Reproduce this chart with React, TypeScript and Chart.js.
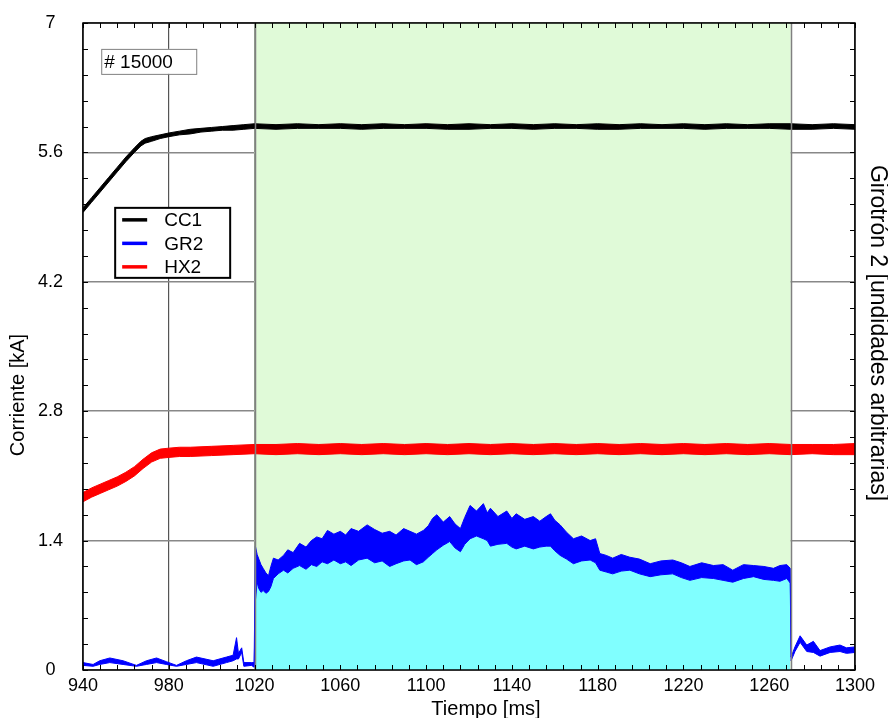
import React, { useEffect, useRef } from 'react';
import { Chart, registerables } from 'chart.js';

Chart.register(...registerables);

// ---------- axes ----------
const X_MIN = 940;
const X_MAX = 1300;
const X_STEP = 40;
const X_MINOR = 8;
const Y_TICKS = [0, 1.4, 2.8, 4.2, 5.6, 7];
const Y_MINOR = 0.28;
const SHADE = [1020, 1270];
const SHOT_LABEL = '# 15000';
const X_TITLE = 'Tiempo [ms]';
const Y_TITLE = 'Corriente [kA]';
const Y2_TITLE = 'Girotrón 2 [undidades arbitrarias]';
const LEGEND_LABELS = ['CC1', 'GR2', 'HX2'];
const LEGEND_COLORS = ['#000000', '#0000ff', '#ff0000'];

// ---------- CC1 (black) envelope ----------
const CC1_T = [940, 944, 948, 952, 956, 960, 964, 967, 969, 972, 976, 980, 985, 990, 995, 1000, 1005, 1010, 1015, 1020,
  1030, 1040, 1050, 1060, 1070, 1080, 1090, 1100, 1110, 1120, 1130, 1140, 1150, 1160, 1170, 1180, 1190, 1200,
  1210, 1220, 1230, 1240, 1250, 1260, 1270, 1280, 1290, 1300];
const CC1_LO = [4.95, 5.06, 5.17, 5.28, 5.39, 5.50, 5.60, 5.67, 5.70, 5.72, 5.75, 5.77, 5.79, 5.80, 5.82, 5.83, 5.84, 5.84, 5.85, 5.86,
  5.85, 5.86, 5.86, 5.86, 5.85, 5.86, 5.86, 5.86, 5.85, 5.85, 5.86, 5.86, 5.85, 5.86, 5.86, 5.85, 5.85, 5.86,
  5.86, 5.86, 5.85, 5.86, 5.86, 5.86, 5.85, 5.85, 5.86, 5.85];
const CC1_HI = [5.00, 5.11, 5.22, 5.33, 5.44, 5.55, 5.65, 5.72, 5.75, 5.77, 5.79, 5.81, 5.83, 5.85, 5.86, 5.87, 5.88, 5.89, 5.90, 5.91,
  5.90, 5.91, 5.90, 5.91, 5.90, 5.91, 5.90, 5.91, 5.90, 5.91, 5.90, 5.91, 5.90, 5.91, 5.90, 5.91, 5.90, 5.91,
  5.90, 5.91, 5.90, 5.91, 5.90, 5.91, 5.91, 5.90, 5.91, 5.90];

// ---------- HX2 (red) envelope ----------
const HX2_T = [940, 944, 948, 952, 956, 960, 964, 968, 972, 976, 980, 985, 990, 1000, 1010, 1020,
  1030, 1040, 1050, 1060, 1070, 1080, 1090, 1100, 1110, 1120, 1130, 1140, 1150, 1160, 1170, 1180, 1190, 1200,
  1210, 1220, 1230, 1240, 1250, 1260, 1270, 1280, 1290, 1300];
const HX2_LO = [1.82, 1.87, 1.91, 1.95, 1.99, 2.04, 2.10, 2.18, 2.25, 2.29, 2.30, 2.31, 2.31, 2.32, 2.33, 2.34,
  2.33, 2.34, 2.33, 2.34, 2.33, 2.34, 2.33, 2.34, 2.33, 2.34, 2.33, 2.34, 2.33, 2.34, 2.33, 2.34, 2.33, 2.34,
  2.33, 2.34, 2.33, 2.34, 2.33, 2.34, 2.33, 2.34, 2.33, 2.33];
const HX2_HI = [1.92, 1.97, 2.01, 2.05, 2.09, 2.14, 2.20, 2.28, 2.35, 2.39, 2.40, 2.41, 2.41, 2.42, 2.43, 2.44,
  2.44, 2.45, 2.44, 2.45, 2.44, 2.45, 2.44, 2.45, 2.44, 2.45, 2.44, 2.45, 2.44, 2.45, 2.44, 2.45, 2.44, 2.45,
  2.44, 2.45, 2.44, 2.45, 2.44, 2.45, 2.44, 2.44, 2.44, 2.45];

// ---------- GR2 (blue) envelope ----------
const GR2_T = [940, 944.7, 947.8, 952.5, 958.7, 964.9, 969.6, 974.3, 978.9, 983.6, 988.2, 992.9, 1000.7, 1006.9, 1010,
  1011.6, 1012.5, 1014, 1015, 1018.6, 1019.8,
  1020.4, 1021.2, 1022, 1023, 1024, 1025.3, 1026.5, 1027.6, 1028.8, 1031, 1033.5, 1035.5, 1038, 1041, 1044, 1046.5,
  1049, 1051.5, 1054, 1057, 1060, 1062.5, 1065, 1068.5, 1072.5, 1076, 1079.5, 1083, 1086, 1089.5, 1092.5, 1095.5,
  1098.7, 1101, 1103, 1105, 1108, 1111, 1113.5, 1116, 1118, 1120.5, 1123.5, 1126.7, 1128.5, 1130, 1133.5, 1137.6,
  1140, 1142, 1146, 1150, 1153, 1156, 1158, 1160, 1162.5, 1165.5, 1168.7, 1172.5, 1176.5, 1179, 1181, 1184, 1187,
  1191, 1195, 1199.5, 1204.5, 1209.5, 1215, 1219, 1223, 1228.5, 1234, 1238.5, 1243, 1248, 1252.7, 1257.5, 1262,
  1265, 1268.2, 1269.8,
  1270.2, 1272, 1274.4, 1277.5, 1280.6, 1283.7, 1288.4, 1293, 1296, 1300];
const GR2_LO = [0.05, 0.04, 0.06, 0.08, 0.06, 0.04, 0.06, 0.08, 0.06, 0.04, 0.06, 0.08, 0.04, 0.08, 0.10,
  0.12, 0.12, 0.19, 0.04, 0.05, 0.03,
  0.75, 0.95, 0.88, 0.84, 0.86, 0.83, 0.85, 0.90, 0.99, 1.04, 1.08, 1.05, 1.10, 1.13, 1.09, 1.14,
  1.12, 1.17, 1.15, 1.19, 1.15, 1.17, 1.13, 1.19, 1.21, 1.16, 1.18, 1.12, 1.15, 1.18, 1.19, 1.14,
  1.17, 1.22, 1.26, 1.30, 1.35, 1.39, 1.32, 1.28, 1.36, 1.42, 1.45, 1.42, 1.40, 1.34, 1.36, 1.37,
  1.33, 1.31, 1.34, 1.31, 1.33, 1.34, 1.34, 1.29, 1.24, 1.20, 1.15, 1.18, 1.19, 1.16, 1.08, 1.06, 1.04,
  1.07, 1.08, 1.04, 1.01, 1.03, 1.04, 1.00, 0.97, 1.00, 0.99, 0.97, 0.95, 0.99, 1.01, 0.98, 0.97,
  0.96, 0.99, 0.94,
  0.10, 0.20, 0.30, 0.20, 0.19, 0.15, 0.19, 0.20, 0.18, 0.19];
const GR2_HI = [0.08, 0.06, 0.10, 0.13, 0.10, 0.05, 0.10, 0.13, 0.09, 0.05, 0.10, 0.14, 0.10, 0.14, 0.16,
  0.35, 0.18, 0.24, 0.08, 0.08, 0.08,
  1.34, 1.25, 1.20, 1.14, 1.10, 1.05, 1.02, 1.12, 1.21, 1.19, 1.24, 1.30, 1.27, 1.37, 1.33, 1.40,
  1.44, 1.42, 1.51, 1.47, 1.50, 1.46, 1.53, 1.50, 1.57, 1.52, 1.48, 1.50, 1.46, 1.53, 1.50, 1.47,
  1.51, 1.56, 1.64, 1.68, 1.60, 1.66, 1.58, 1.53, 1.65, 1.78, 1.72, 1.80, 1.70, 1.75, 1.66, 1.72,
  1.64, 1.69, 1.63, 1.66, 1.61, 1.66, 1.69, 1.62, 1.57, 1.49, 1.42, 1.45, 1.40, 1.42, 1.26, 1.24, 1.21,
  1.25, 1.22, 1.20, 1.15, 1.18, 1.19, 1.16, 1.12, 1.16, 1.13, 1.14, 1.08, 1.14, 1.13, 1.12, 1.10,
  1.13, 1.14, 1.10,
  0.14, 0.25, 0.37, 0.27, 0.31, 0.21, 0.25, 0.27, 0.24, 0.25];

const FONT = "'Liberation Sans', Arial, sans-serif";

const pts = (t: number[], v: number[]) => t.map((x, i) => ({ x, y: v[i] }));

const decor = {
  id: 'decor',
  beforeDatasetsDraw(chart: any) {
    const { ctx, chartArea: a, scales } = chart;
    const x0 = scales.x.getPixelForValue(SHADE[0]);
    const x1 = scales.x.getPixelForValue(SHADE[1]);
    ctx.save();
    ctx.fillStyle = '#e0fad8';
    ctx.fillRect(x0, a.top, x1 - x0, a.bottom - a.top);
    ctx.restore();
  },
  afterDraw(chart: any) {
    const { ctx, chartArea: a, scales } = chart;
    const xs = scales.x;
    const ys = scales.y;
    ctx.save();
    // shade boundaries
    ctx.strokeStyle = '#808080';
    ctx.lineWidth = 1.5;
    for (const s of SHADE) {
      const px = Math.round(xs.getPixelForValue(s)) + 0.5;
      ctx.beginPath();
      ctx.moveTo(px, a.top);
      ctx.lineTo(px, a.bottom);
      ctx.stroke();
    }
    // minor ticks (inward)
    ctx.strokeStyle = '#000';
    ctx.lineWidth = 1;
    const tl = 5;
    for (let v = X_MIN; v <= X_MAX + 1e-9; v += X_MINOR) {
      const px = Math.round(xs.getPixelForValue(v)) + 0.5;
      ctx.beginPath();
      ctx.moveTo(px, a.bottom);
      ctx.lineTo(px, a.bottom - tl);
      ctx.moveTo(px, a.top);
      ctx.lineTo(px, a.top + tl);
      ctx.stroke();
    }
    for (let k = 0; k * Y_MINOR <= 7 + 1e-9; k++) {
      const py = Math.round(ys.getPixelForValue(k * Y_MINOR)) + 0.5;
      ctx.beginPath();
      ctx.moveTo(a.left, py);
      ctx.lineTo(a.left + tl, py);
      ctx.moveTo(a.right, py);
      ctx.lineTo(a.right - tl, py);
      ctx.stroke();
    }
    // frame
    ctx.lineWidth = 1.5;
    ctx.strokeStyle = '#000';
    ctx.strokeRect(a.left, a.top, a.right - a.left, a.bottom - a.top);

    // axis titles
    ctx.fillStyle = '#000';
    ctx.textBaseline = 'middle';
    ctx.textAlign = 'center';
    ctx.font = `20px ${FONT}`;
    ctx.fillText(X_TITLE, 486, 709);
    ctx.save();
    ctx.translate(18, 395);
    ctx.rotate(-Math.PI / 2);
    ctx.fillText(Y_TITLE, 0, 0);
    ctx.restore();
    ctx.save();
    ctx.translate(877, 333);
    ctx.rotate(Math.PI / 2);
    ctx.font = `23px ${FONT}`;
    ctx.fillText(Y2_TITLE, 0, 0);
    ctx.restore();

    // shot label box
    const bx = xs.getPixelForValue(948.5);
    const by = ys.getPixelForValue(6.72);
    ctx.fillStyle = '#fff';
    ctx.fillRect(bx, by, 95, 25);
    ctx.strokeStyle = '#808080';
    ctx.lineWidth = 1;
    ctx.strokeRect(bx + 0.5, by + 0.5, 95, 25);
    ctx.fillStyle = '#000';
    ctx.font = `19px ${FONT}`;
    ctx.textBaseline = 'middle';
    ctx.textAlign = 'left';
    ctx.fillText(SHOT_LABEL, bx + 3, by + 13.5);

    // legend box
    const lx = xs.getPixelForValue(955);
    const ly = ys.getPixelForValue(5.0);
    const lw = 115;
    const lh = 70;
    ctx.fillStyle = '#fff';
    ctx.fillRect(lx, ly, lw, lh);
    ctx.strokeStyle = '#000';
    ctx.lineWidth = 2;
    ctx.strokeRect(lx, ly, lw, lh);
    LEGEND_LABELS.forEach((lab, i) => {
      const ry = ly + 12 + i * 23.5;
      ctx.strokeStyle = LEGEND_COLORS[i];
      ctx.lineWidth = 3.5;
      ctx.beginPath();
      ctx.moveTo(lx + 7, ry);
      ctx.lineTo(lx + 32, ry);
      ctx.stroke();
      ctx.fillStyle = '#000';
      ctx.font = `19px ${FONT}`;
      ctx.fillText(lab, lx + 49, ry + 1);
    });
    ctx.restore();
  },
};

export default function App() {
  const ref = useRef<HTMLCanvasElement | null>(null);
  useEffect(() => {
    if (!ref.current) return;
    const inShade = GR2_T.map((t, i) => ({ x: t, y: GR2_LO[i] })).filter((p) => p.x >= SHADE[0] && p.x <= SHADE[1]);
    const line = (label: string, data: any[], color: string, order: number, fill: any = false, bg = color) => ({
      label,
      data,
      borderColor: color,
      backgroundColor: bg,
      borderWidth: 1,
      pointRadius: 0,
      tension: 0,
      fill,
      order,
    });
    const chart = new Chart(ref.current, {
      type: 'line',
      data: {
        datasets: [
          { ...line('GR2 fill', inShade, 'rgba(0,0,0,0)', 20, 'origin', '#80ffff'), borderWidth: 0 },
          line('GR2 lo', pts(GR2_T, GR2_LO), '#0000ff', 10),
          line('GR2', pts(GR2_T, GR2_HI), '#0000ff', 9, '-1', '#0000ff'),
          line('HX2 lo', pts(HX2_T, HX2_LO), '#ff0000', 6),
          line('HX2', pts(HX2_T, HX2_HI), '#ff0000', 5, '-1', '#ff0000'),
          line('CC1 lo', pts(CC1_T, CC1_LO), '#000000', 2),
          line('CC1', pts(CC1_T, CC1_HI), '#000000', 1, '-1', '#000000'),
        ],
      },
      options: {
        animation: false,
        responsive: true,
        maintainAspectRatio: false,
        layout: { padding: { top: 23, left: 0, right: 0, bottom: 0 } },
        plugins: { legend: { display: false }, tooltip: { enabled: false } },
        scales: {
          x: {
            type: 'linear',
            min: X_MIN,
            max: X_MAX,
            z: 1,
            ticks: {
              stepSize: X_STEP,
              autoSkip: false,
              maxRotation: 0,
              padding: 5,
              color: '#000',
              font: { family: FONT, size: 18 },
              callback: (v: any) => String(v),
            },
            grid: { color: '#555', lineWidth: 1.2, drawTicks: false },
            border: { display: false },
            afterFit: (s: any) => {
              s.height = 48;
              s.paddingLeft = 0;
              s.paddingRight = 0;
            },
          },
          y: {
            type: 'linear',
            min: 0,
            max: 7,
            z: 1,
            afterBuildTicks: (s: any) => {
              s.ticks = Y_TICKS.map((value) => ({ value }));
            },
            ticks: {
              callback: (v: any) => String(v),
              crossAlign: 'center',
              padding: 20,
              color: '#000',
              font: { family: FONT, size: 18 },
            },
            grid: { color: '#888', lineWidth: 1.5, drawTicks: false },
            border: { display: false },
            afterFit: (s: any) => {
              s.width = 83;
              s.paddingTop = 0;
              s.paddingBottom = 0;
            },
          },
          y2: {
            type: 'linear',
            position: 'right',
            min: 0,
            max: 7,
            ticks: { display: false },
            grid: { display: false, drawTicks: false },
            border: { display: false },
            afterFit: (s: any) => {
              s.width = 33;
              s.paddingTop = 0;
              s.paddingBottom = 0;
            },
          },
        },
      } as any,
      plugins: [decor],
    });
    return () => chart.destroy();
  }, []);
  return (
    <div style={{ position: 'fixed', left: 0, top: 0, width: 888, height: 718, background: '#fff' }}>
      <canvas ref={ref} />
    </div>
  );
}
